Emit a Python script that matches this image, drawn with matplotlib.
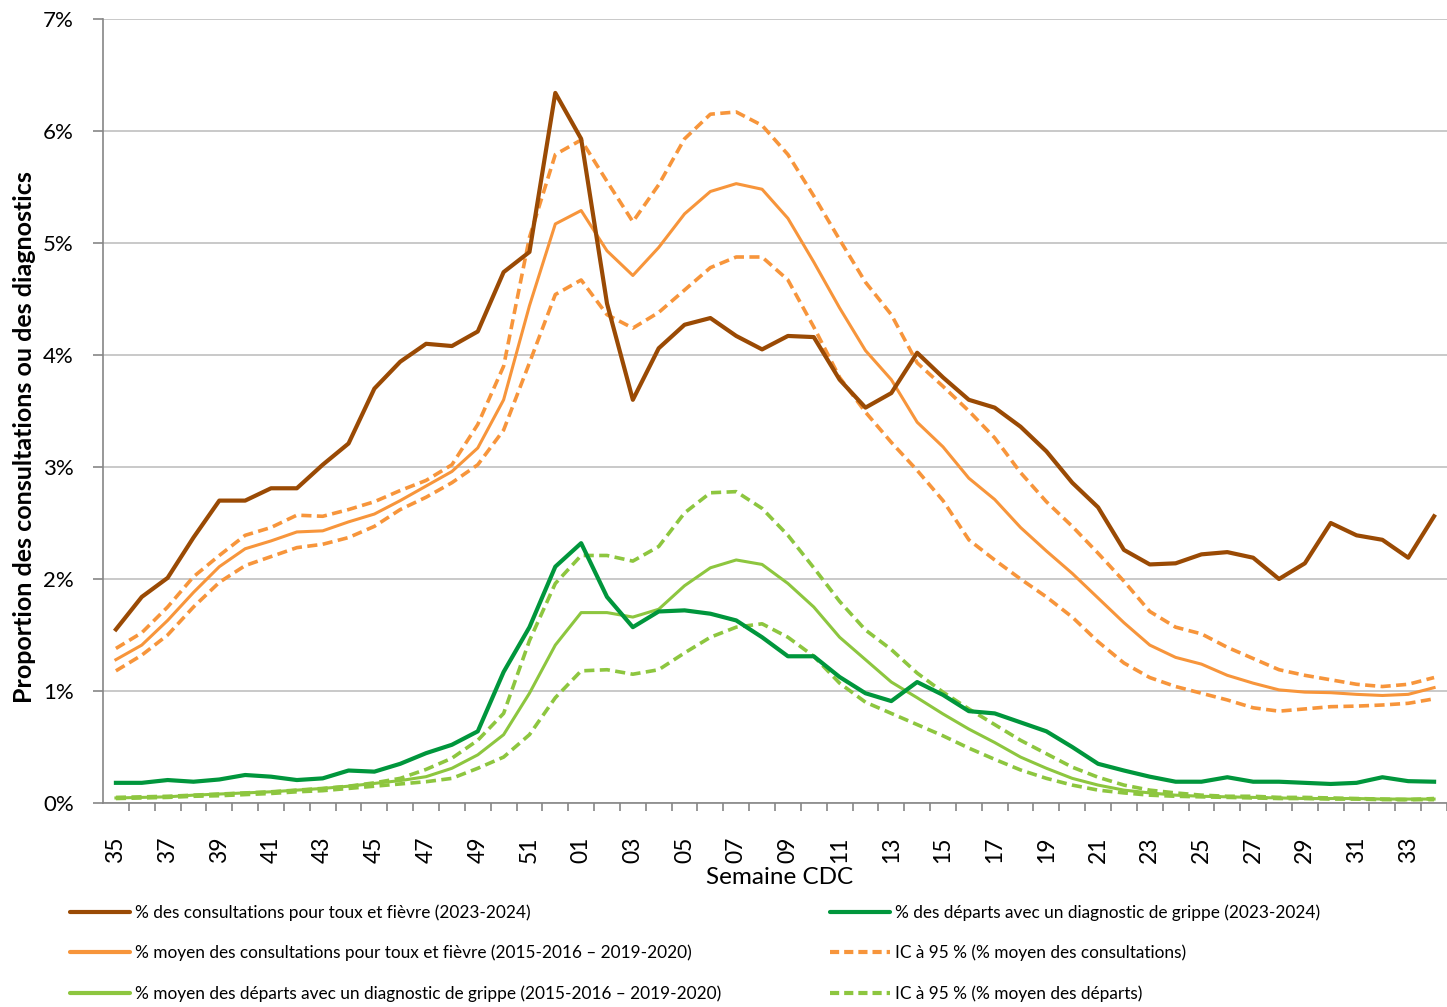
import matplotlib
matplotlib.use('Agg')
from matplotlib import pyplot as plt
from matplotlib.lines import Line2D
from matplotlib.ticker import FuncFormatter, FixedLocator

plt.rcParams['font.family'] = ['Lato', 'DejaVu Sans']

weeks = [str(w) for w in range(35, 53)] + ['%02d' % w for w in range(1, 35)]

toux_fievre_2324 = [1.55, 1.84, 2.01, 2.37, 2.70, 2.70, 2.81, 2.81, 3.02, 3.21,
                    3.70, 3.94, 4.10, 4.08, 4.21, 4.74, 4.92, 6.34, 5.93, 4.46,
                    3.60, 4.06, 4.27, 4.33, 4.17, 4.05, 4.17, 4.16, 3.78, 3.53,
                    3.66, 4.02, 3.80, 3.60, 3.53, 3.36, 3.14, 2.86, 2.64, 2.26,
                    2.13, 2.14, 2.22, 2.24, 2.19, 2.00, 2.14, 2.50, 2.39, 2.35,
                    2.19, 2.56]
toux_fievre_moy = [1.28, 1.41, 1.63, 1.88, 2.11, 2.27, 2.34, 2.42, 2.43, 2.51,
                   2.58, 2.70, 2.83, 2.96, 3.17, 3.60, 4.44, 5.17, 5.29, 4.93,
                   4.71, 4.96, 5.26, 5.46, 5.53, 5.48, 5.22, 4.83, 4.42, 4.04,
                   3.78, 3.40, 3.18, 2.90, 2.71, 2.46, 2.25, 2.05, 1.83, 1.61,
                   1.41, 1.30, 1.24, 1.14, 1.07, 1.01, 0.99, 0.985, 0.97, 0.96,
                   0.97, 1.03]
toux_fievre_ic_haut = [1.38, 1.52, 1.75, 2.02, 2.21, 2.39, 2.46, 2.57, 2.56, 2.62,
                       2.69, 2.79, 2.88, 3.02, 3.38, 3.90, 5.05, 5.79, 5.92, 5.55,
                       5.19, 5.52, 5.93, 6.15, 6.17, 6.05, 5.79, 5.42, 5.03, 4.65,
                       4.36, 3.93, 3.72, 3.50, 3.26, 2.95, 2.69, 2.47, 2.23, 1.98,
                       1.71, 1.57, 1.51, 1.39, 1.29, 1.19, 1.14, 1.10, 1.06, 1.04,
                       1.06, 1.12]
toux_fievre_ic_bas = [1.18, 1.32, 1.50, 1.75, 1.97, 2.12, 2.20, 2.28, 2.31, 2.37,
                      2.47, 2.62, 2.73, 2.86, 3.02, 3.33, 3.93, 4.54, 4.67, 4.36,
                      4.24, 4.38, 4.58, 4.78, 4.875, 4.875, 4.67, 4.25, 3.80, 3.49,
                      3.22, 2.97, 2.70, 2.35, 2.17, 2.00, 1.84, 1.66, 1.44, 1.25,
                      1.12, 1.04, 0.98, 0.92, 0.85, 0.82, 0.84, 0.86, 0.865, 0.875,
                      0.89, 0.93]

grippe_2324 = [0.18, 0.18, 0.205, 0.19, 0.21, 0.25, 0.235, 0.205, 0.22, 0.29,
               0.28, 0.35, 0.445, 0.52, 0.64, 1.17, 1.57, 2.11, 2.32, 1.84,
               1.57, 1.71, 1.72, 1.69, 1.63, 1.48, 1.31, 1.31, 1.125, 0.98,
               0.91, 1.08, 0.965, 0.82, 0.80, 0.72, 0.64, 0.50, 0.35, 0.29,
               0.235, 0.19, 0.19, 0.23, 0.19, 0.19, 0.18, 0.17, 0.18, 0.23,
               0.195, 0.19]
grippe_moy = [0.045, 0.05, 0.055, 0.07, 0.08, 0.09, 0.10, 0.115, 0.13, 0.15,
              0.175, 0.20, 0.235, 0.31, 0.43, 0.61, 0.98, 1.41, 1.70, 1.70,
              1.66, 1.73, 1.94, 2.10, 2.17, 2.13, 1.96, 1.75, 1.48, 1.28,
              1.08, 0.94, 0.795, 0.66, 0.54, 0.41, 0.31, 0.22, 0.16, 0.115,
              0.09, 0.07, 0.06, 0.055, 0.05, 0.045, 0.04, 0.04, 0.04, 0.035,
              0.035, 0.035]
grippe_ic_haut = [0.05, 0.055, 0.06, 0.07, 0.08, 0.09, 0.10, 0.115, 0.13, 0.15,
                  0.18, 0.22, 0.30, 0.40, 0.56, 0.80, 1.45, 1.96, 2.21, 2.21,
                  2.16, 2.29, 2.59, 2.77, 2.78, 2.63, 2.39, 2.10, 1.80, 1.545,
                  1.37, 1.16, 0.99, 0.84, 0.70, 0.56, 0.44, 0.32, 0.23, 0.16,
                  0.115, 0.09, 0.07, 0.06, 0.06, 0.05, 0.05, 0.045, 0.04, 0.035,
                  0.03, 0.04]
grippe_ic_bas = [0.04, 0.045, 0.05, 0.06, 0.065, 0.075, 0.085, 0.10, 0.11, 0.13,
                 0.15, 0.17, 0.19, 0.22, 0.31, 0.41, 0.61, 0.94, 1.18, 1.19,
                 1.15, 1.19, 1.34, 1.48, 1.57, 1.60, 1.48, 1.31, 1.07, 0.90,
                 0.80, 0.70, 0.60, 0.49, 0.39, 0.295, 0.22, 0.16, 0.115, 0.09,
                 0.07, 0.06, 0.055, 0.05, 0.045, 0.04, 0.04, 0.035, 0.035, 0.03,
                 0.03, 0.03]

labels = {
    'brown': '% des consultations pour toux et fièvre (2023-2024)',
    'orange': '% moyen des consultations pour toux et fièvre (2015-2016 – 2019-2020)',
    'light': '% moyen des départs avec un diagnostic de grippe (2015-2016 – 2019-2020)',
    'green': '% des départs avec un diagnostic de grippe (2023-2024)',
    'orange_ic': 'IC à 95 % (% moyen des consultations)',
    'light_ic': 'IC à 95 % (% moyen des départs)',
}

BROWN = '#9A4A04'
ORANGE = '#F7953B'
GREEN = '#00963C'
LIGHT = '#8DC63F'
DASH = (2.8, 1.5)

W, H = 1447, 1007
fig = plt.figure(figsize=(W / 100, H / 100), dpi=100)
ax = fig.add_axes([103 / W, 204 / H, 1344 / W, 784 / H])

x = list(range(len(weeks)))

ax.plot(x, grippe_ic_haut, color=LIGHT, lw=2.6, dashes=DASH, dash_capstyle='butt')
ax.plot(x, grippe_ic_bas, color=LIGHT, lw=2.6, dashes=DASH, dash_capstyle='butt')
ax.plot(x, grippe_moy, color=LIGHT, lw=2.2)
ax.plot(x, toux_fievre_ic_haut, color=ORANGE, lw=2.6, dashes=DASH, dash_capstyle='butt')
ax.plot(x, toux_fievre_ic_bas, color=ORANGE, lw=2.6, dashes=DASH, dash_capstyle='butt')
ax.plot(x, toux_fievre_moy, color=ORANGE, lw=2.2)
ax.plot(x, grippe_2324, color=GREEN, lw=3.0)
ax.plot(x, toux_fievre_2324, color=BROWN, lw=3.0)

ax.set_xlim(-0.5, len(weeks) - 0.5)
ax.set_ylim(0, 7)
ax.set_yticks(range(0, 8))
ax.yaxis.set_major_formatter(FuncFormatter(lambda v, pos: '%d%%' % v))
ax.grid(axis='y', color='#C0C0C0', lw=1.2)
ax.set_axisbelow(True)

ax.set_xticks(x[::2])
ax.set_xticklabels(weeks[::2], rotation=90)
ax.xaxis.set_minor_locator(FixedLocator([i + 0.5 for i in x]))
ax.tick_params(axis='x', which='major', length=0, pad=24, labelsize=16.5)
ax.tick_params(axis='x', which='minor', length=6, color='#868686', width=1.2)
ax.tick_params(axis='y', length=7, color='#868686', width=1.2, pad=14, labelsize=16)

for side in ('top', 'right'):
    ax.spines[side].set_visible(False)
for side in ('left', 'bottom'):
    ax.spines[side].set_color('#868686')
    ax.spines[side].set_linewidth(1.2)

fig.text(780 / W, 1 - 878 / H, 'Semaine CDC', ha='center', va='center', fontsize=17.5)
fig.text(25 / W, 1 - 437 / H, 'Proportion des consultations ou des diagnostics',
         ha='center', va='center', rotation=90, fontsize=18, fontweight='bold')

def handle(color, dashed=False):
    if dashed:
        return Line2D([], [], color=color, lw=3.0, dashes=(2.2, 1.2), dash_capstyle='butt')
    return Line2D([], [], color=color, lw=3.0, solid_capstyle='round')

legend_style = dict(loc='upper left', frameon=False, fontsize=12.4, borderpad=0,
                    borderaxespad=0, handlelength=3.5, handletextpad=0.3, labelspacing=1.4)

fig.legend([handle(BROWN), handle(ORANGE), handle(LIGHT)],
           [labels['brown'], labels['orange'], labels['light']],
           bbox_to_anchor=(70 / W, 1 - 904 / H), **legend_style)
fig.legend([handle(GREEN), handle(ORANGE, True), handle(LIGHT, True)],
           [labels['green'], labels['orange_ic'], labels['light_ic']],
           bbox_to_anchor=(830 / W, 1 - 904 / H), **legend_style)

fig.savefig('out.png', dpi=100)
